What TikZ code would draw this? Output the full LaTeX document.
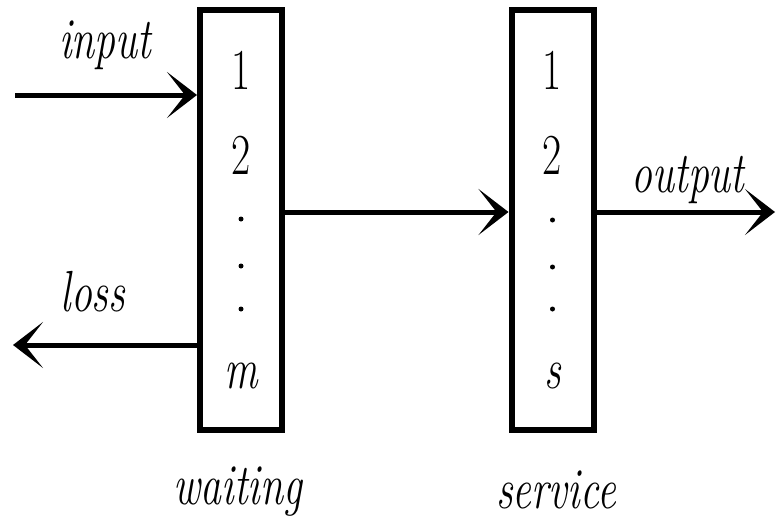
\documentclass[tikz,border=0pt]{standalone}
\usetikzlibrary{arrows.meta}
% narrow the glyphs horizontally
\newcommand{\narrowtxt}[1]{\scalebox{0.72}[1]{#1}}
\begin{document}
\begin{tikzpicture}[x=1pt,y=-1pt,
  queuebox/.style={draw, line width=6pt, minimum width=82pt, minimum height=420pt, inner sep=0pt},
  flow/.style={line width=5pt, -{Stealth[length=30pt,width=46pt,inset=18pt]}},
  lbl/.style={font=\rmfamily\fontsize{58}{70}\selectfont\itshape, inner sep=0pt},
  slot/.style={font=\rmfamily\fontsize{58}{70}\selectfont, inner sep=0pt},
  dotmark/.style={circle, fill, inner sep=0pt, minimum size=5pt}]
\useasboundingbox (0,0) rectangle (776,527);

% the two stages
\node[queuebox] (wait) at (241,220) {};
\node[queuebox] (serv) at (552.5,220) {};

% slot numbering inside the waiting room
\node[slot] (w1) at (241,70) {\narrowtxt{1}};
\node[slot] (w2) at (241,155) {\narrowtxt{2}};
\node[dotmark] (wd1) at (241,219) {};
\node[dotmark] (wd2) at (241,266) {};
\node[dotmark] (wd3) at (241,309) {};
\node[lbl] (wm) at (241,376) {\narrowtxt{m}};

% slot numbering inside the service stage
\node[slot] (s1) at (552.5,70) {\narrowtxt{1}};
\node[slot] (s2) at (552.5,155) {\narrowtxt{2}};
\node[dotmark] (sd1) at (552.5,220) {};
\node[dotmark] (sd2) at (552.5,267) {};
\node[dotmark] (sd3) at (552.5,309) {};
\node[lbl] (ss) at (552.5,376) {\narrowtxt{s}};

% free ends of the connectors
\coordinate (inA) at (15,95);
\coordinate (lossB) at (13,345);
\coordinate (midY) at (400,212);
\coordinate (outB) at (775,212);

\draw[flow] (inA) -- (inA -| wait.west);
\draw[flow] (lossB -| wait.west) -- (lossB);
\draw[flow] (midY -| wait.east) -- (midY -| serv.west);
\draw[flow] (outB -| serv.east) -- (outB);

% labels
\node[lbl] (lin) at (105,45) {\narrowtxt{input}};
\node[lbl] (lloss) at (93,292) {\narrowtxt{loss}};
\node[lbl] (lout) at (688,180) {\narrowtxt{output}};
\node[lbl] (lwait) at (238,492) {\narrowtxt{waiting}};
\node[lbl] (lserv) at (556,490) {\narrowtxt{service}};
\end{tikzpicture}
\end{document}
